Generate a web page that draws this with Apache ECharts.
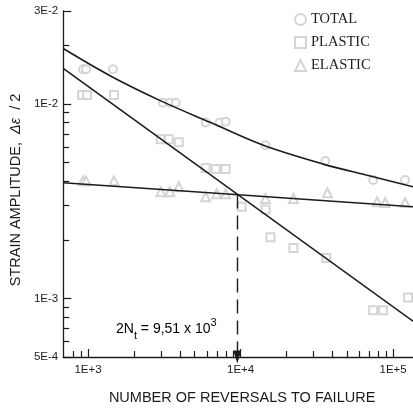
<!DOCTYPE html>
<html>
<head>
<meta charset="utf-8">
<script src="https://cdn.jsdelivr.net/npm/echarts@6/dist/echarts.min.js"></script>
<style>
  html, body { margin: 0; padding: 0; background: #ffffff; }
  #chart { width: 413px; height: 410px; }
</style>
</head>
<body>
<div id="chart"></div>
<script>
// Axis ranges (reversals to failure, strain amplitude)
const xMin = 687, xMax = 135000;
const yMin = 5e-4, yMax = 3e-2;

// Tick positions
const xMajorTicks = [1e3, 1e4, 1e5];
const xMinorTicks = [800, 900, 2000, 3000, 4000, 5000, 6000, 7000, 8000, 9000,
                     20000, 30000, 40000, 50000, 60000, 70000, 80000, 90000];
const yMajorTicks = [5e-4, 1e-3, 1e-2, 3e-2];
const yMinorTicks = [6e-4, 7e-4, 8e-4, 9e-4, 2e-3, 3e-3, 4e-3, 5e-3, 6e-3, 7e-3, 8e-3, 9e-3, 2e-2];

// Measured points
const totalN = [927, 970, 1456, 3090, 3434, 3757, 5902, 7295, 7980, 14560, 35930, 73960, 119700];
const totalStrain = [1.505e-2, 1.505e-2, 1.505e-2, 1.012e-2, 1.012e-2, 1.012e-2, 8.01e-3, 8.01e-3, 8.10e-3, 6.12e-3, 5.08e-3, 4.06e-3, 4.06e-3];
const plasticN = [914, 985, 1479, 3000, 3381, 3933, 5902, 6871, 7980, 10150, 14560, 15700, 22200, 36480, 73960, 86030, 125400];
const plasticStrain = [1.111e-2, 1.111e-2, 1.111e-2, 6.57e-3, 6.57e-3, 6.34e-3, 4.68e-3, 4.62e-3, 4.62e-3, 2.96e-3, 2.86e-3, 2.06e-3, 1.815e-3, 1.614e-3, 8.69e-4, 8.69e-4, 1.012e-3];
const elasticN = [927, 970, 1479, 3000, 3434, 3933, 5902, 6966, 7980, 14560, 22200, 37070, 78550, 88720, 119700];
const elasticStrain = [4.02e-3, 4.02e-3, 4.02e-3, 3.53e-3, 3.53e-3, 3.75e-3, 3.33e-3, 3.45e-3, 3.45e-3, 3.26e-3, 3.26e-3, 3.49e-3, 3.14e-3, 3.11e-3, 3.11e-3];

// Fitted curves
const fitN = [687, 135000];
const elasticFit = [3.93e-3, 2.96e-3];
const plasticFit = [1.523e-2, 7.64e-4];
const totalFitN = [687, 1413, 3000, 6370, 14130, 34800, 70800, 135000];
const totalFit = [1.924e-2, 1.387e-2, 1.036e-2, 8.01e-3, 6.12e-3, 4.90e-3, 4.26e-3, 3.75e-3];

// Transition life (elastic = plastic)
const transitionN = 9510;
const transitionStrain = 3.42e-3;

const zip = (xs, ys) => xs.map((x, i) => [x, ys[i]]);

function expLabel(v) {
  const e = Math.floor(Math.log10(v) + 1e-9);
  const m = Math.round(v / Math.pow(10, e));
  return m + 'E' + (e >= 0 ? '+' : '-') + Math.abs(e);
}

const ink = '#1c1c1c';
const markerColor = '#cacaca';
const sans = 'Liberation Sans';

function xAxisDef(ticks, len, withLabels) {
  return {
    type: 'log', logBase: 10, min: xMin, max: xMax, position: 'bottom',
    axisLine: { show: withLabels, lineStyle: { color: ink, width: 1.3 } },
    axisTick: { show: true, inside: true, length: len, customValues: ticks,
                lineStyle: { color: ink, width: 1.2 } },
    axisLabel: withLabels ? { show: true, customValues: xMajorTicks, formatter: expLabel,
                 color: ink, fontFamily: sans, fontSize: 11.5, margin: 7 } : { show: false },
    splitLine: { show: false },
    name: withLabels ? 'NUMBER OF REVERSALS TO FAILURE' : '',
    nameLocation: 'middle', nameGap: 33,
    nameTextStyle: { color: ink, fontFamily: sans, fontSize: 14.5, padding: [0, 0, 0, 8] }
  };
}

function yAxisDef(ticks, len, withLabels) {
  return {
    type: 'log', logBase: 10, min: yMin, max: yMax, position: 'left',
    axisLine: { show: withLabels, lineStyle: { color: ink, width: 1.3 } },
    axisTick: { show: true, inside: true, length: len, customValues: ticks,
                lineStyle: { color: ink, width: 1.2 } },
    axisLabel: withLabels ? { show: true, customValues: yMajorTicks, formatter: expLabel,
                 color: ink, fontFamily: sans, fontSize: 11.5, margin: 5 } : { show: false },
    splitLine: { show: false },
    name: withLabels ? '{a|STRAIN AMPLITUDE,  }{b|Δε}{a|  / 2}' : '',
    nameLocation: 'middle', nameGap: 32, nameRotate: 90,
    nameTextStyle: { color: ink, padding: [0, 12, 0, 0], rich: {
      a: { fontFamily: sans, fontSize: 14.5, color: ink },
      b: { fontFamily: sans, fontSize: 14.5, fontStyle: 'italic', color: ink }
    } }
  };
}

const chart = echarts.init(document.getElementById('chart'), null, { renderer: 'canvas' });

chart.setOption({
  animation: false,
  backgroundColor: '#ffffff',
  grid: { left: 62, right: 0, top: 11, bottom: 51 },
  xAxis: [xAxisDef(xMajorTicks, 8, true), xAxisDef(xMinorTicks, 6, false)],
  yAxis: [yAxisDef(yMajorTicks, 8, true), yAxisDef(yMinorTicks, 6, false)],
  legend: {
    orient: 'vertical', left: 289, top: 7, itemGap: 8,
    itemWidth: 11, itemHeight: 11,
    data: ['TOTAL', 'PLASTIC', 'ELASTIC'],
    textStyle: { fontFamily: 'Liberation Serif', fontSize: 14.5, color: '#222' }
  },
  series: [
    { name: 'TOTAL', type: 'scatter', symbol: 'emptyCircle', symbolSize: 8,
      itemStyle: { color: markerColor, borderWidth: 1 }, data: zip(totalN, totalStrain) },
    { name: 'PLASTIC', type: 'scatter', symbol: 'emptyRect', symbolSize: 8,
      itemStyle: { color: markerColor, borderWidth: 1 }, data: zip(plasticN, plasticStrain) },
    { name: 'ELASTIC', type: 'scatter', symbol: 'emptyTriangle', symbolSize: 9,
      itemStyle: { color: markerColor, borderWidth: 1 }, data: zip(elasticN, elasticStrain) },
    { name: 'total fit', type: 'line', smooth: 0.35, showSymbol: false,
      lineStyle: { color: ink, width: 1.6 }, data: zip(totalFitN, totalFit) },
    { name: 'elastic fit', type: 'line', showSymbol: false,
      lineStyle: { color: ink, width: 1.6 }, data: zip(fitN, elasticFit) },
    { name: 'plastic fit', type: 'line', showSymbol: false,
      lineStyle: { color: ink, width: 1.6 }, data: zip(fitN, plasticFit),
      markLine: {
        silent: true, symbol: ['none', 'triangle'], symbolSize: [8, 13], symbolRotate: 180,
        label: { show: false },
        lineStyle: { color: ink, width: 1.4, type: [14, 7] },
        data: [[{ coord: [transitionN, transitionStrain] }, { coord: [transitionN, yMin] }]]
      } }
  ],
  graphic: [{
    type: 'text', left: 116, top: 317,
    style: {
      text: '{a|2N}{s|t}{a| = ' + (transitionN / 1000).toFixed(2).replace('.', ',') + ' x 10}{p|3}',
      rich: {
        a: { fontFamily: sans, fontSize: 14, color: ink, lineHeight: 24, verticalAlign: 'middle' },
        s: { fontFamily: sans, fontSize: 11, color: ink, lineHeight: 24, verticalAlign: 'bottom' },
        p: { fontFamily: sans, fontSize: 11, color: ink, lineHeight: 24, verticalAlign: 'top' }
      }
    }
  }]
});
</script>
</body>
</html>
